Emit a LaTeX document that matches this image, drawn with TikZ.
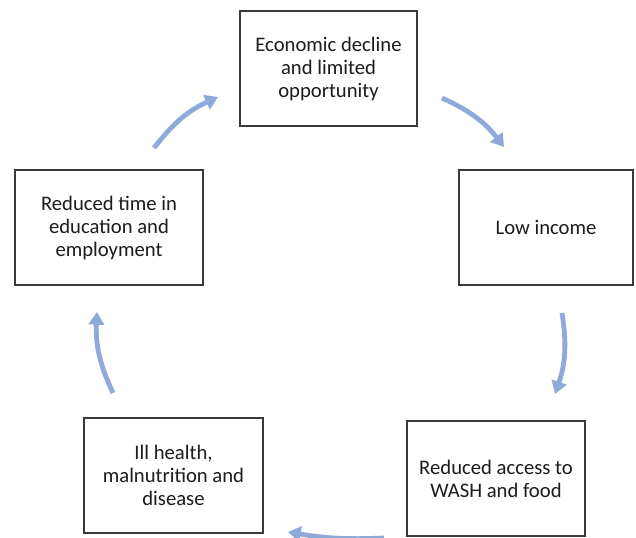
\documentclass[tikz,border=0pt]{standalone}
\usepackage{fontspec}
\setmainfont{Carlito}
\usetikzlibrary{arrows.meta}
\definecolor{boxline}{HTML}{3A3A3A}
\definecolor{textcol}{HTML}{1C1C1C}
\definecolor{cyclearrow}{HTML}{8EAADB}
\begin{document}
\begin{tikzpicture}[x=0.75pt,y=-0.75pt,
  stage/.style={draw=boxline, line width=1.1pt, fill=white, text=textcol,
    align=center, inner sep=0pt, font=\fontsize{15.5}{17.25}\selectfont},
  flow/.style={draw=cyclearrow, line width=3.6pt,
    -{Triangle[width=11.5pt,length=9.5pt]}, shorten >=0pt}]
  \useasboundingbox (0,0) rectangle (636,537);
  \clip (0,0) rectangle (636,537);
  \fill[white] (0,0) rectangle (636,537);

  % the five stages of the cycle
  \node[stage, minimum width=132.75pt, minimum height=86.25pt] (econ) at (328.5,68.5)
    {Economic decline\\and limited\\opportunity};
  \node[stage, minimum width=130.5pt, minimum height=86.25pt] (income) at (546,227.5)
    {Low income};
  \node[stage, minimum width=133.5pt, minimum height=86.25pt] (wash) at (496,478.5)
    {Reduced access to\\WASH and food};
  \node[stage, minimum width=134.25pt, minimum height=86.25pt] (health) at (173.5,475.5)
    {Ill health,\\malnutrition and\\disease};
  \node[stage, minimum width=141pt, minimum height=86.25pt] (time) at (109,227.5)
    {Reduced time in\\education and\\employment};

  % arrow end points between the stages
  \coordinate (a1) at (442,98);  \coordinate (b1) at (504,147);
  \coordinate (a2) at (562,313); \coordinate (b2) at (555,394);
  \coordinate (a3) at (384,538); \coordinate (b3) at (288,532);
  \coordinate (a4) at (113,393); \coordinate (b4) at (97,312);
  \coordinate (a5) at (154,148); \coordinate (b5) at (218,97);

  \draw[flow] (a1) to[bend left=14] (b1);
  \draw[flow] (a2) to[bend left=14] (b2);
  \draw[flow] (a3) to[bend left=6] (b3);
  \draw[flow] (a4) to[bend left=14] (b4);
  \draw[flow] (a5) to[bend left=14] (b5);
\end{tikzpicture}
\end{document}
